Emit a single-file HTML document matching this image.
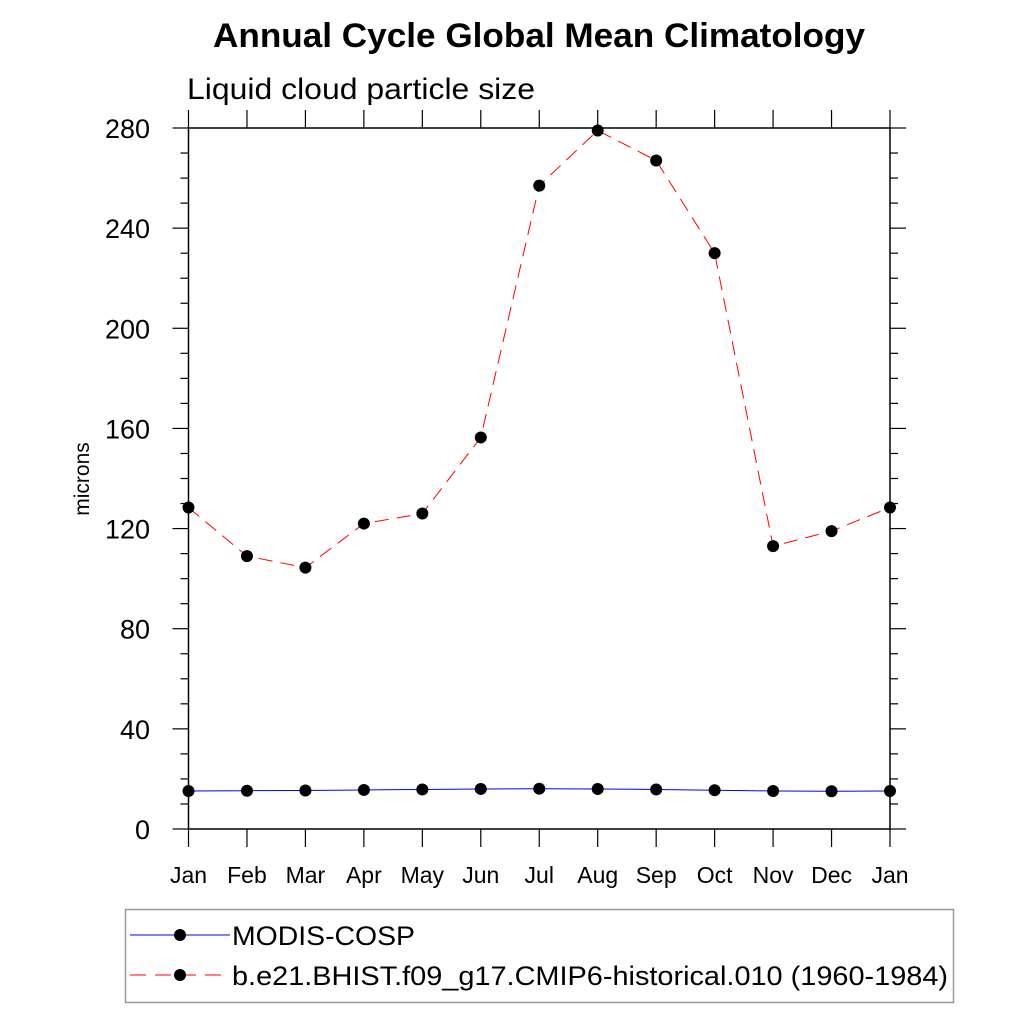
<!DOCTYPE html>
<html><head><meta charset="utf-8"><style>
body{margin:0;background:#fff}
svg text{font-family:"Liberation Sans",sans-serif}
</style></head><body>
<svg id="c" width="1024" height="1024" xmlns="http://www.w3.org/2000/svg">
<text x="213" y="47" font-size="34" font-weight="bold" textLength="652" lengthAdjust="spacingAndGlyphs">Annual Cycle Global Mean Climatology</text>
<text x="187" y="99" font-size="30" textLength="348" lengthAdjust="spacingAndGlyphs">Liquid cloud particle size</text>
<text transform="translate(89,479) rotate(-90)" font-size="21" text-anchor="middle">microns</text>
<g id="axes"></g>
<g id="series"></g>
<rect x="125.5" y="909.5" width="828" height="93" fill="none" stroke="#999" stroke-width="1.5"/>
<line x1="130" y1="935" x2="230" y2="935" stroke="#0000ff" stroke-width="1"/>
<circle cx="180" cy="935" r="6" fill="#000"/>
<text x="232" y="945" font-size="27" textLength="183" lengthAdjust="spacingAndGlyphs">MODIS-COSP</text>
<line x1="130" y1="975" x2="230" y2="975" stroke="#ff0000" stroke-width="1" stroke-dasharray="16,9"/>
<circle cx="180" cy="975" r="6" fill="#000"/>
<text x="232" y="985" font-size="27" textLength="716" lengthAdjust="spacingAndGlyphs">b.e21.BHIST.f09_g17.CMIP6-historical.010 (1960-1984)</text>
</svg>
<script>
const months=["Jan","Feb","Mar","Apr","May","Jun","Jul","Aug","Sep","Oct","Nov","Dec","Jan"];
const yTicks=[0,40,80,120,160,200,240,280];
const modisValues=[15.2,15.3,15.4,15.6,15.8,16.0,16.1,16.0,15.8,15.5,15.2,15.1,15.2];
const modelValues=[128.4,109,104.4,122,126,156.4,257,279,267,230,113,119,128.4];
const svg=document.getElementById('c'),NS="http://www.w3.org/2000/svg";
const X0=188.5,X1=890,Y0=829,Y1=128,YMAX=280;
const xs=i=>X0+i*(X1-X0)/(months.length-1);
const ys=v=>Y0-v*(Y0-Y1)/YMAX;
function mk(t,a,p){const e=document.createElementNS(NS,t);for(const k in a)e.setAttribute(k,a[k]);p.appendChild(e);return e;}
const ax=document.getElementById('axes');
const fr=mk('rect',{x:X0,y:Y1,width:X1-X0,height:Y0-Y1,fill:'none',stroke:'#000','stroke-width':1.5},ax);


for(let v=0;v<=YMAX;v+=10){const y=ys(v),maj=v%40===0,L=maj?16:8;
 const l1=mk('line',{x1:X0-L,x2:X0,y1:y,y2:y,stroke:'#000','stroke-width':1.2},ax);
 
 
 const l2=mk('line',{x1:X1,x2:X1+L,y1:y,y2:y,stroke:'#000','stroke-width':1.2},ax);
 
 }
yTicks.forEach(v=>{const t=mk('text',{x:150,y:ys(v)+10,'font-size':27,'text-anchor':'end'},ax);t.textContent=v;
 
 });
months.forEach((m,i)=>{const x=xs(i);
 const b=mk('line',{x1:x,x2:x,y1:Y0,y2:Y0+18,stroke:'#000','stroke-width':1.2},ax);
 
 
 const t=mk('line',{x1:x,x2:x,y1:Y1-18,y2:Y1,stroke:'#000','stroke-width':1.2},ax);
 
 
 const l=mk('text',{x:x,y:883,'font-size':23,'text-anchor':'middle'},ax);l.textContent=m;
 
 });
const sg=document.getElementById('series');
function series(vals,color,dash,name){
 const p=mk('polyline',{points:vals.map((v,i)=>xs(i)+','+ys(v)).join(' '),fill:'none',stroke:color,'stroke-width':1,'stroke-dasharray':dash},sg);
 
 
 vals.forEach((v,i)=>{const c=mk('circle',{cx:xs(i),cy:ys(v),r:6,fill:'#000'},sg);
  
  });}
series(modisValues,'#0000ff','none','modis');
series(modelValues,'#ff0000','14,8','model');
</script>
</body></html>
